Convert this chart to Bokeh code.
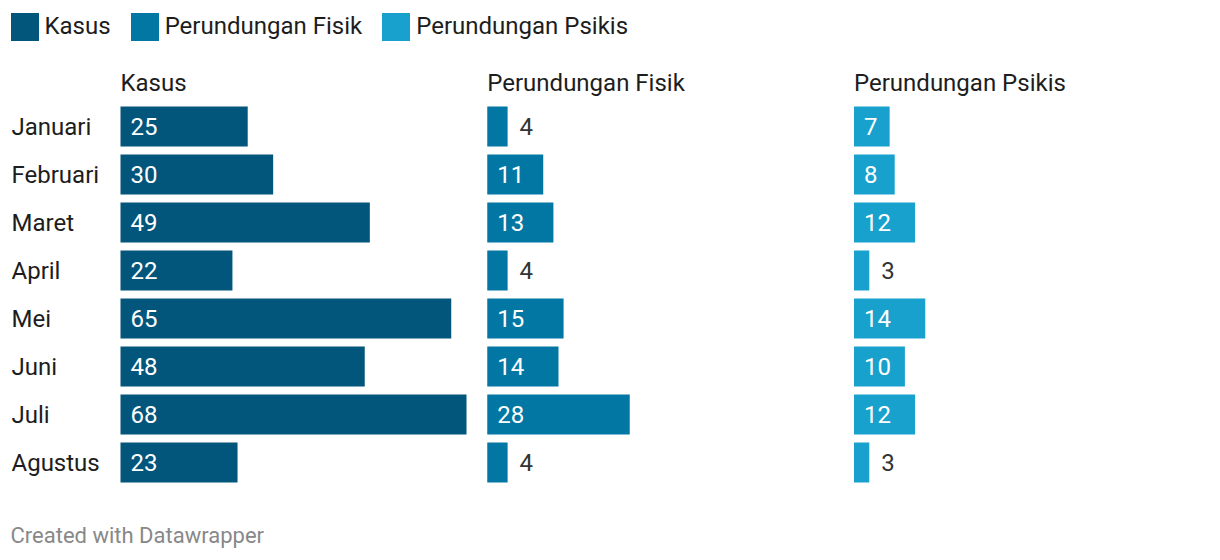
from bokeh.plotting import figure
from bokeh.models import ColumnDataSource, Range1d, Legend, LegendItem, Label
from bokeh.core.properties import value
from bokeh.embed import file_html
from bokeh.resources import INLINE

months = ["Januari", "Februari", "Maret", "April", "Mei", "Juni", "Juli", "Agustus"]
series_names = ["Kasus", "Perundungan Fisik", "Perundungan Psikis"]
kasus = [25, 30, 49, 22, 65, 48, 68, 23]
fisik = [4, 11, 13, 4, 15, 14, 28, 4]
psikis = [7, 8, 12, 3, 14, 10, 12, 3]
colors = ["#02557b", "#0277a3", "#18a1cd"]

W, H = 1220, 560
FONT = "Roboto"
FS = "24px"
LEFT_PX = 120          # where the first panel starts
PANEL_PX = 346         # width of the longest bar
ROW_PX = 48            # row pitch
FIRST_ROW_PX = 126     # centre of the first row

series = [kasus, fisik, psikis]
vmax = max(max(s) for s in series)
scale = PANEL_PX / vmax                 # px per unit
step = vmax * 1.06                      # panel pitch in units
offsets = [i * step for i in range(len(series))]

x0 = -LEFT_PX / scale
x1 = (W - LEFT_PX) / scale
y_top = -FIRST_ROW_PX / ROW_PX
y_bot = (H - FIRST_ROW_PX) / ROW_PX

p = figure(width=W, height=H, output_backend="svg", toolbar_location=None,
           x_range=Range1d(x0, x1), y_range=Range1d(y_bot, y_top),
           min_border=0, outline_line_color=None)
p.axis.visible = False
p.grid.visible = False
p.background_fill_color = "white"
p.border_fill_color = "white"

rows = list(range(len(months)))
renderers = []
for k, (vals, off, col, name) in enumerate(zip(series, offsets, colors, series_names)):
    src = ColumnDataSource(dict(y=rows, left=[off] * len(vals), right=[off + v for v in vals]))
    r = p.hbar(y="y", left="left", right="right", height=40 / ROW_PX, source=src,
               fill_color=col, line_color=None)
    renderers.append(r)
    # value labels
    inside = [v * scale > 30 for v in vals]
    lsrc = ColumnDataSource(dict(
        x=[off if ins else off + v for v, ins in zip(vals, inside)],
        y=rows,
        t=[str(v) for v in vals],
        c=["#ffffff" if ins else "#333333" for ins in inside],
        xo=[10 if ins else 12 for ins in inside],
    ))
    p.text(x="x", y="y", text="t", x_offset="xo", source=lsrc, text_color="c",
           text_font=value(FONT), text_font_size=FS,
           text_baseline="middle", text_align="left")
    # panel title
    p.text(x=[off], y=[y_top + 82 / ROW_PX], text=[name], text_color="#1d1d1d",
           text_font=value(FONT), text_font_size=FS,
           text_baseline="middle", text_align="left")

# month labels
msrc = ColumnDataSource(dict(x=[x0] * len(months), y=rows, t=months))
p.text(x="x", y="y", text="t", x_offset=11, source=msrc, text_color="#1d1d1d",
       text_font=value(FONT), text_font_size=FS,
       text_baseline="middle", text_align="left")

legend = Legend(items=[LegendItem(label=n, renderers=[r]) for n, r in zip(series_names, renderers)],
                orientation="horizontal", location=(6.5, H - 43.5),
                glyph_width=35, glyph_height=35, label_standoff=3, spacing=16,
                padding=0, margin=0, border_line_color=None, background_fill_alpha=0,
                label_text_font=FONT, label_text_font_size=FS, label_text_color="#1d1d1d",
                label_height=35)
p.add_layout(legend, "center")

p.add_layout(Label(x=10, y=25, x_units="screen", y_units="screen",
                   text="Created with Datawrapper", text_color="#888888",
                   text_font=FONT, text_font_size="22px", text_baseline="middle"))

open("out.html", "w").write(file_html(p, INLINE))
